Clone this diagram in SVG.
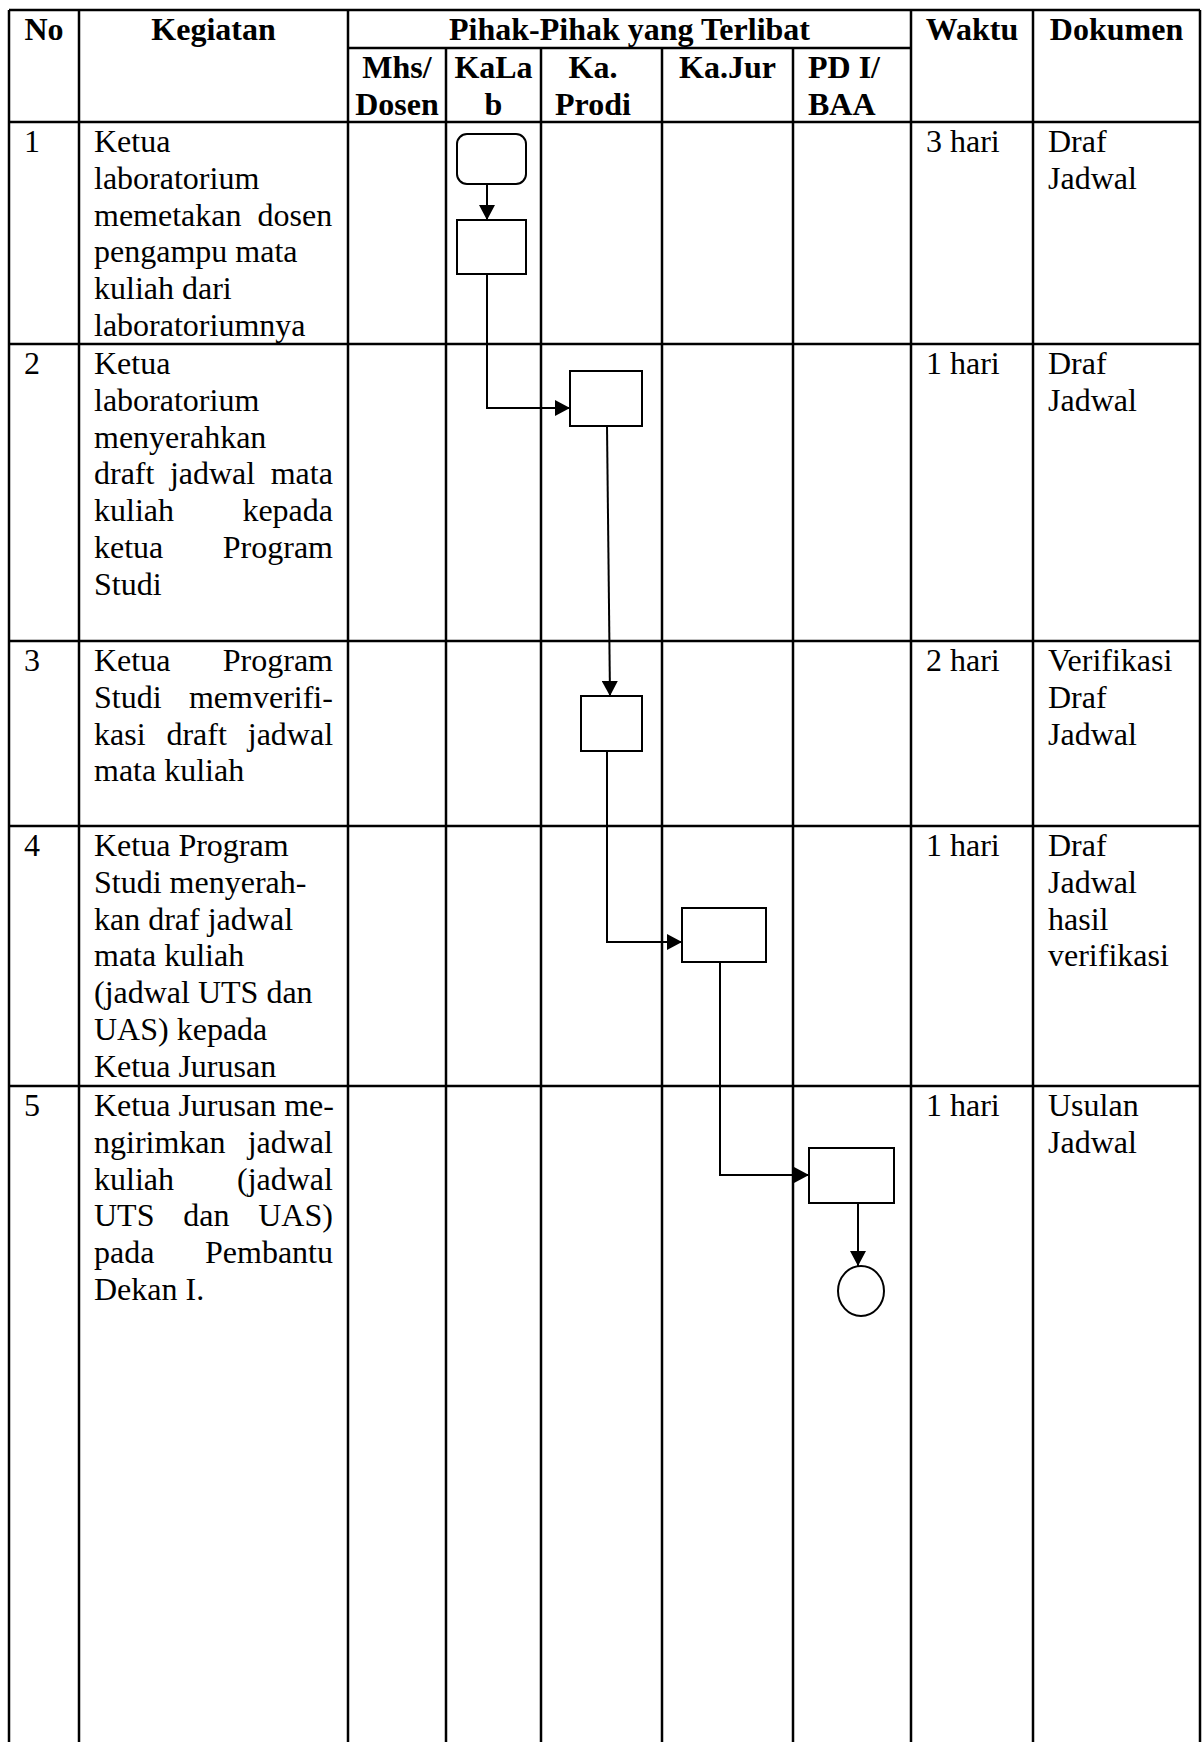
<svg xmlns="http://www.w3.org/2000/svg" width="1202" height="1742" viewBox="0 0 1202 1742">
<style>
text{font-family:"Liberation Serif","Times New Roman",serif;font-size:32px;fill:#000;font-variant-ligatures:none;}
.h{font-weight:bold;}
.c{text-anchor:middle;}
.pre{white-space:pre;}
.grid line{stroke:#000;stroke-width:2.5;}
.shape{fill:#fff;stroke:#000;stroke-width:2;}
.conn{fill:none;stroke:#000;stroke-width:2;marker-end:url(#arr);}
</style>
<defs>
<marker id="arr" markerUnits="userSpaceOnUse" viewBox="0 0 15 16" refX="15" refY="8" markerWidth="15" markerHeight="16" orient="auto">
<path d="M0,0 L15,8 L0,16 Z" fill="#000"/>
</marker>
</defs>
<rect width="1202" height="1742" fill="#fff"/>
<g class="grid" id="table">
<line x1="9" y1="10" x2="1200" y2="10"/>
<line x1="348" y1="48" x2="911" y2="48"/>
<line x1="9" y1="122" x2="1200" y2="122"/>
<line x1="9" y1="344" x2="1200" y2="344"/>
<line x1="9" y1="641" x2="1200" y2="641"/>
<line x1="9" y1="826" x2="1200" y2="826"/>
<line x1="9" y1="1086" x2="1200" y2="1086"/>
<line x1="9" y1="10" x2="9" y2="1742"/>
<line x1="79" y1="10" x2="79" y2="1742"/>
<line x1="348" y1="10" x2="348" y2="1742"/>
<line x1="446" y1="48" x2="446" y2="1742"/>
<line x1="541" y1="48" x2="541" y2="1742"/>
<line x1="662" y1="48" x2="662" y2="1742"/>
<line x1="793" y1="48" x2="793" y2="1742"/>
<line x1="911" y1="10" x2="911" y2="1742"/>
<line x1="1033" y1="10" x2="1033" y2="1742"/>
<line x1="1200" y1="10" x2="1200" y2="1742"/>
</g>
<g id="header">
<text class="h c" x="44" y="40">No</text>
<text class="h c" x="213.5" y="40">Kegiatan</text>
<text class="h c" x="629.5" y="40">Pihak-Pihak yang Terlibat</text>
<text class="h c" x="972" y="40">Waktu</text>
<text class="h c" x="1116.5" y="40">Dokumen</text>
<text class="h c" x="397" y="78">Mhs/</text>
<text class="h c" x="397" y="115">Dosen</text>
<text class="h c" x="493.5" y="78">KaLa</text>
<text class="h c" x="493.5" y="115">b</text>
<text class="h c" x="593" y="78">Ka.</text>
<text class="h c" x="593" y="115">Prodi</text>
<text class="h c" x="727.5" y="78">Ka.Jur</text>
<text class="h" x="808" y="78">PD I/</text>
<text class="h" x="808" y="115">BAA</text>
</g>
<g id="row1">
<text x="24" y="152">1</text>
<text x="94" y="152">Ketua</text>
<text x="94" y="188.8">laboratorium</text>
<text class="pre" x="94" y="225.6">memetakan  dosen</text>
<text x="94" y="262.4">pengampu mata</text>
<text x="94" y="299.2">kuliah dari</text>
<text x="94" y="336">laboratoriumnya</text>
<text x="926" y="152">3 hari</text>
<text x="1048" y="152">Draf</text>
<text x="1048" y="188.8">Jadwal</text>
</g>
<g id="row2">
<text x="24" y="374">2</text>
<text x="94" y="374">Ketua</text>
<text x="94" y="410.8">laboratorium</text>
<text x="94" y="447.6">menyerahkan</text>
<text x="94" y="484.4" word-spacing="7.5">draft jadwal mata</text>
<text x="94" y="521.2" word-spacing="60.4">kuliah kepada</text>
<text x="94" y="558" word-spacing="51.5">ketua Program</text>
<text x="94" y="594.8">Studi</text>
<text x="926" y="374">1 hari</text>
<text x="1048" y="374">Draf</text>
<text x="1048" y="410.8">Jadwal</text>
</g>
<g id="row3">
<text x="24" y="671">3</text>
<text x="94" y="671" word-spacing="44.4">Ketua Program</text>
<text x="94" y="707.8" word-spacing="19.4">Studi memverifi-</text>
<text x="94" y="744.6" word-spacing="12.9">kasi draft jadwal</text>
<text x="94" y="781.4">mata kuliah</text>
<text x="926" y="671">2 hari</text>
<text x="1048" y="671">Verifikasi</text>
<text x="1048" y="707.8">Draf</text>
<text x="1048" y="744.6">Jadwal</text>
</g>
<g id="row4">
<text x="24" y="856">4</text>
<text x="94" y="856">Ketua Program</text>
<text x="94" y="892.8">Studi menyerah-</text>
<text x="94" y="929.6">kan draf jadwal</text>
<text x="94" y="966.4">mata kuliah</text>
<text x="94" y="1003.2">(jadwal UTS dan</text>
<text x="94" y="1040">UAS) kepada</text>
<text x="94" y="1076.8">Ketua Jurusan</text>
<text x="926" y="856">1 hari</text>
<text x="1048" y="856">Draf</text>
<text x="1048" y="892.8">Jadwal</text>
<text x="1048" y="929.6">hasil</text>
<text x="1048" y="966.4">verifikasi</text>
</g>
<g id="row5">
<text x="24" y="1116">5</text>
<text x="94" y="1116">Ketua Jurusan me-</text>
<text x="94" y="1152.8" word-spacing="14.1">ngirimkan jadwal</text>
<text x="94" y="1189.6" word-spacing="55">kuliah (jadwal</text>
<text x="94" y="1226.4" word-spacing="20.8">UTS dan UAS)</text>
<text x="94" y="1263.2" word-spacing="42.6">pada Pembantu</text>
<text x="94" y="1300">Dekan I.</text>
<text x="926" y="1116">1 hari</text>
<text x="1048" y="1116">Usulan</text>
<text x="1048" y="1152.8">Jadwal</text>
</g>
<g id="connectors">
<path class="conn" d="M487,184 V220"/>
<path class="conn" d="M487,274 V408 H570"/>
<path class="conn" d="M607,426 L610,696"/>
<path class="conn" d="M607,751 V942 H682"/>
<path class="conn" d="M720,962 V1175 H809"/>
<path class="conn" d="M858,1203 V1266"/>
</g>
<g id="start"><rect class="shape" x="457" y="134" width="69" height="50" rx="10"/></g>
<g id="step1"><rect class="shape" x="457" y="220" width="69" height="54"/></g>
<g id="step2"><rect class="shape" x="570" y="371" width="72" height="55"/></g>
<g id="step3"><rect class="shape" x="581" y="696" width="61" height="55"/></g>
<g id="step4"><rect class="shape" x="682" y="908" width="84" height="54"/></g>
<g id="step5"><rect class="shape" x="809" y="1148" width="85" height="55"/></g>
<g id="end"><ellipse class="shape" cx="861" cy="1291" rx="23" ry="25"/></g>
</svg>
